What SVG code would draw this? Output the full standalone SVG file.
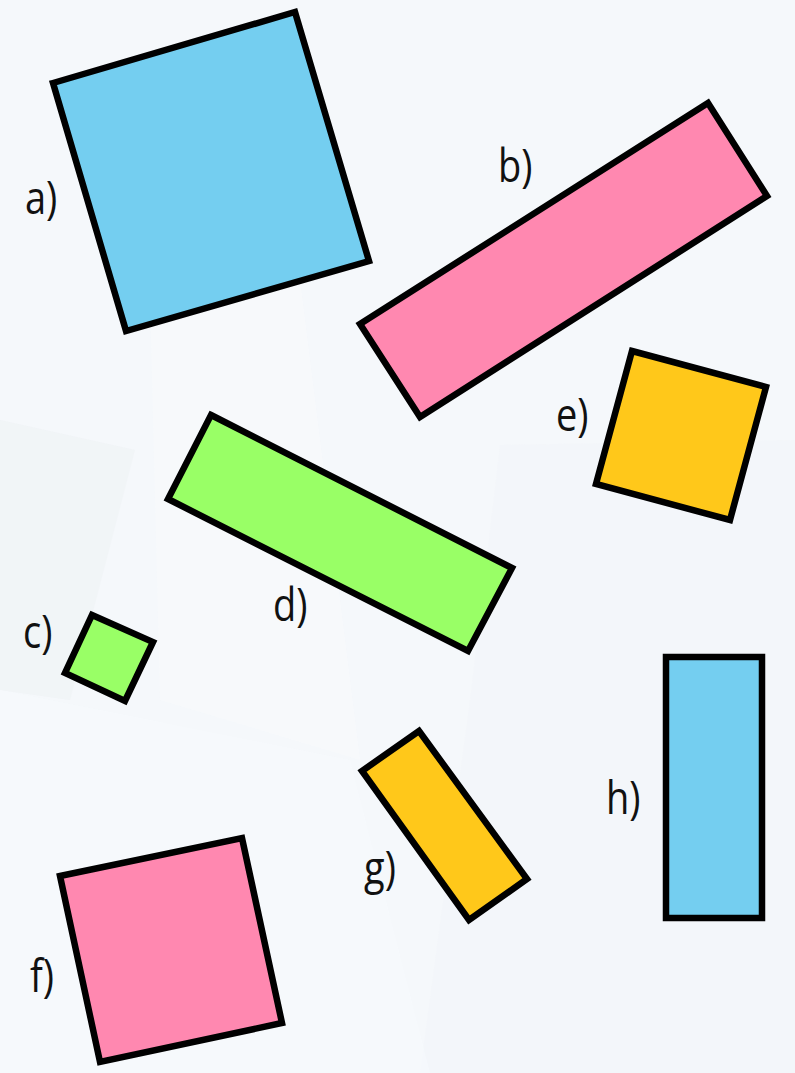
<svg xmlns="http://www.w3.org/2000/svg" width="795" height="1073" viewBox="0 0 795 1073">
  <style>
    .shape { stroke: #000; stroke-width: 6.5; stroke-linejoin: miter; }
    .blue { fill: #74cef0; }
    .pink { fill: #ff88b0; }
    .green { fill: #99ff66; }
    .yellow { fill: #ffc81a; }
    .label { font-family: "Open Sans", "Noto Sans", "DejaVu Sans", sans-serif; font-size: 38px; fill: #111; }
  </style>
  <g id="background">
    <rect x="0" y="0" width="795" height="1073" fill="#f5f8fb"/>
    <polygon points="0,420 135,450 70,700 0,690" fill="#eef1f4" opacity="0.5"/>
    <polygon points="150,300 300,280 360,760 160,700" fill="#f8fafc" opacity="0.6"/>
    <polygon points="500,445 795,440 795,1073 420,1073 470,700" fill="#f2f5f8" opacity="0.45"/>
    <polygon points="0,690 350,760 430,1073 0,1073" fill="#f7fafd" opacity="0.6"/>
  </g>
  <g id="node-a">
    <polygon class="shape blue" points="53,83 295,12 369,261 126,331"/>
    <text class="label" transform="translate(25,214) scale(1,1.18)">a)</text>
  </g>
  <g id="node-b">
    <polygon class="shape pink" points="360,324 708,103 767,196 420,417"/>
    <text class="label" transform="translate(498,182) scale(1,1.18)">b)</text>
  </g>
  <g id="node-c">
    <polygon class="shape green" points="92,615 153,642 125,701 65,673"/>
    <text class="label" transform="translate(23,648) scale(1,1.18)">c)</text>
  </g>
  <g id="node-d">
    <polygon class="shape green" points="211,415 512,568 468,651 168,499"/>
    <text class="label" transform="translate(273,621) scale(1,1.18)">d)</text>
  </g>
  <g id="node-e">
    <polygon class="shape yellow" points="632,351 766,387 730,520 596,484"/>
    <text class="label" transform="translate(556,431) scale(1,1.18)">e)</text>
  </g>
  <g id="node-f">
    <polygon class="shape pink" points="60,876 242,838 282,1023 100,1062"/>
    <text class="label" transform="translate(30,992) scale(1,1.18)">f)</text>
  </g>
  <g id="node-g">
    <polygon class="shape yellow" points="419,731 527,879 469,920 362,771"/>
    <text class="label" transform="translate(364,884) scale(1,1.18)">g)</text>
  </g>
  <g id="node-h">
    <rect class="shape blue" x="666" y="657" width="96" height="261"/>
    <text class="label" transform="translate(606,814) scale(1,1.18)">h)</text>
  </g>
  <g id="connectors"/>
</svg>
